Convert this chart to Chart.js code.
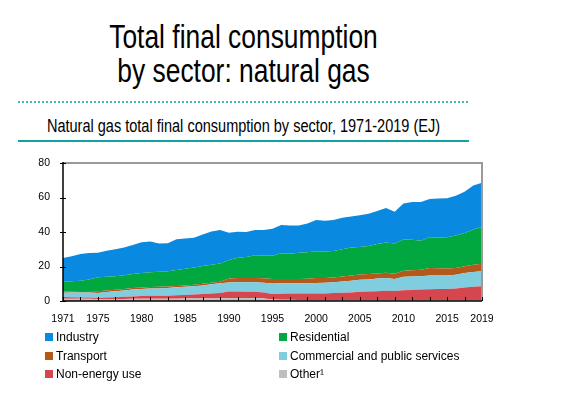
<!DOCTYPE html>
<html>
<head>
<meta charset="utf-8">
<script src="https://cdn.jsdelivr.net/npm/chart.js"></script>
<style>
  html, body { margin:0; padding:0; background:#fff; }
  body { width:569px; height:395px; position:relative; overflow:hidden; font-family:"Liberation Sans",Arial,sans-serif; }
  .t { position:absolute; left:0; width:487px; text-align:center; color:#000; white-space:nowrap; transform-origin:50% 50%; }
  #t1 { top:20px; font-size:33px; line-height:33px; transform:scaleX(0.8); }
  #t2 { top:54px; font-size:33px; line-height:33px; transform:scaleX(0.8); }
  #sub { top:118px; font-size:17.5px; line-height:17.5px; transform:scaleX(0.83); }
  #dot { position:absolute; left:18px; width:450px; top:101px; border-top:2px dotted #45b9bb; }
  #solid { position:absolute; left:18px; width:451px; top:140px; height:2px; background:#12a2a4; }
  canvas { position:absolute; left:0; top:0; }
  #legend { position:absolute; left:0; top:0; }
  .li { position:absolute; font-size:12px; line-height:14px; color:#000; white-space:nowrap; }
  .li span { display:inline-block; width:8px; height:8px; margin-right:3px; vertical-align:0px; }
</style>
</head>
<body>
<div class="t" id="t1">Total final consumption</div>
<div class="t" id="t2">by sector: natural gas</div>
<div id="dot"></div>
<div class="t" id="sub">Natural gas total final consumption by sector, 1971-2019 (EJ)</div>
<div id="solid"></div>
<canvas id="c" width="569" height="395"></canvas>
<div id="legend"></div>
<script>
const years = [];
for (let y = 1971; y <= 2019; y++) years.push(String(y));
const shownYears = ["1971","1975","1980","1985","1990","1995","2000","2005","2010","2015","2019"];
const yTicks = [0, 20, 40, 60, 80];

const other = [1.3,1.3,1.3,1.3,1.2,1.2,1.2,1.2,1.3,1.3,1.3,1.3,1.3,1.3,1.4,1.4,1.4,1.5,1.5,
  1.8,1.8,1.7,1.7,1.5,
  0.8,0.7,0.7,0.6,0.6,0.6,0.5,0.5,0.5,0.5,0.5,0.4,0.4,0.4,0.4,0.4,0.4,0.4,0.4,0.4,0.4,0.4,0.4,0.4,0.4];
const nonEnergy = [1.0,0.9,0.8,0.7,0.6,0.8,1.0,1.2,1.3,1.6,1.7,1.7,1.8,2.0,2.1,2.3,2.6,2.9,3.2,
  3.7,3.7,3.7,3.6,3.4,3.3,3.5,3.6,3.7,3.7,3.7,3.9,4.1,4.3,4.5,4.8,5.1,5.3,5.5,5.4,
  5.8,6.0,6.2,6.4,6.5,6.6,6.9,7.4,7.9,8.2];
const commercial = [2.5,2.7,2.8,2.9,2.9,3.2,3.4,3.7,4.0,4.1,4.2,4.3,4.4,4.6,4.7,4.8,5.0,5.3,5.6,
  5.2,5.3,5.5,5.6,5.7,6.0,6.1,6.0,6.0,6.0,6.2,6.2,6.2,6.5,6.8,7.0,7.0,7.3,7.4,7.0,
  7.8,7.8,7.7,8.0,7.9,7.8,7.9,8.4,8.5,8.6];
const transport = [0.7,0.8,0.9,0.9,1.0,0.9,0.9,0.9,0.9,0.8,0.9,0.9,0.9,0.8,0.8,0.9,1.0,0.9,0.8,
  2.4,2.5,2.5,2.5,2.6,2.6,2.5,2.5,2.5,2.6,2.9,2.7,2.8,2.9,3.0,3.1,3.1,3.0,3.1,3.0,
  3.5,3.6,3.8,4.3,4.2,4.1,4.0,4.0,4.2,4.4];
const residential = [5.6,5.8,5.9,6.7,8.0,7.9,7.9,8.0,8.1,8.4,8.5,8.8,8.8,9.3,9.7,10.0,10.3,10.4,10.7,
  10.7,11.8,12.1,13.1,13.2,13.6,14.9,14.6,15.1,15.3,15.4,15.4,15.4,15.8,16.2,15.9,16.3,17.0,17.5,17.5,
  18.1,17.7,16.9,17.9,17.8,18.1,18.8,19.2,20.5,21.3];
const industry = [13.8,14.5,15.6,15.3,14.3,15.2,15.6,16.0,16.9,17.8,17.9,16.3,16.3,17.8,17.5,17.2,18.3,19.3,19.3,
  15.7,15.0,14.5,14.6,14.7,15.6,16.3,16.4,15.9,16.8,18.1,17.8,17.9,18.3,18.0,18.4,18.7,19.2,20.0,18.5,
  20.9,21.9,22.4,22.2,22.6,22.6,23.0,23.9,25.5,25.6];

const series = [
  { label: "Other\u00B9", data: other, color: "#bebebe" },
  { label: "Non-energy use", data: nonEnergy, color: "#d5464e" },
  { label: "Commercial and public services", data: commercial, color: "#80cde0" },
  { label: "Transport", data: transport, color: "#b3591b" },
  { label: "Residential", data: residential, color: "#00a83f" },
  { label: "Industry", data: industry, color: "#0989df" }
];

const tickPlugin = {
  id: 'ticksAndFrame',
  afterDatasetsDraw(chart) {
    const ctx = chart.ctx, a = chart.chartArea;
    const xs = chart.scales.x, ys = chart.scales.y;
    ctx.save();
    ctx.strokeStyle = '#9a9a9a';
    ctx.lineWidth = 2;
    ctx.beginPath();
    ctx.moveTo(a.left, a.top); ctx.lineTo(a.right, a.top); ctx.lineTo(a.right, a.bottom);
    ctx.stroke();
    ctx.strokeStyle = '#000';
    ctx.lineWidth = 1.5;
    ctx.beginPath();
    ctx.moveTo(a.left, a.top - 1); ctx.lineTo(a.left, a.bottom); ctx.lineTo(a.right, a.bottom);
    ctx.stroke();
    ctx.lineWidth = 1;
    ctx.beginPath();
    for (let i = 0; i < years.length; i += 2) {
      const x = Math.round(xs.getPixelForValue(i)) + 0.5;
      ctx.moveTo(x, a.bottom); ctx.lineTo(x, a.bottom - 4);
    }
    yTicks.forEach(v => {
      const y = Math.round(ys.getPixelForValue(v)) + 0.5;
      ctx.moveTo(a.left - 3, y); ctx.lineTo(a.left + 3, y);
    });
    ctx.stroke();
    ctx.restore();
  }
};

const tickFont = { family: '"Liberation Sans",Arial,sans-serif', size: 10.5 };

const chart = new Chart(document.getElementById('c'), {
  type: 'line',
  data: {
    labels: years,
    datasets: series.map((s, i) => ({
      label: s.label,
      data: s.data,
      backgroundColor: s.color,
      borderColor: s.color,
      borderWidth: 0,
      pointRadius: 0,
      tension: 0,
      fill: i === 0 ? 'origin' : '-1'
    }))
  },
  options: {
    responsive: false,
    animation: false,
    layout: { padding: { left: 0, top: 163, right: 87, bottom: 70 } },
    plugins: { legend: { display: false }, tooltip: { enabled: false } },
    scales: {
      x: {
        type: 'category',
        offset: false,
        border: { display: false },
        grid: { display: false, drawTicks: false },
        ticks: {
          autoSkip: false, maxRotation: 0, padding: 12, color: '#000',
          font: tickFont,
          callback: function(v, i) { const l = years[i]; return shownYears.includes(l) ? l : ''; }
        },
        afterFit(s) { s.height = 395 - 70 - 301; }
      },
      y: {
        stacked: true,
        min: 0, max: 80,
        border: { display: false },
        grid: { display: false, drawTicks: false },
        afterBuildTicks(s) { s.ticks = yTicks.map(v => ({ value: v })); },
        ticks: { padding: 13, color: '#000', font: tickFont },
        afterFit(s) { s.width = 63; }
      }
    }
  },
  plugins: [tickPlugin]
});

const legendOrder = ["Industry", "Residential", "Transport", "Commercial and public services", "Non-energy use", "Other\u00B9"];
const lg = document.getElementById('legend');
legendOrder.forEach((name, k) => {
  const ds = chart.data.datasets.find(d => d.label === name);
  const col = k % 2, row = Math.floor(k / 2);
  const el = document.createElement('div');
  el.className = 'li';
  el.style.left = (col === 0 ? 45 : 279) + 'px';
  el.style.top = (330 + row * 18.5) + 'px';
  el.innerHTML = '<span style="background:' + ds.backgroundColor + '"></span>' + name;
  lg.appendChild(el);
});
</script>
</body>
</html>
